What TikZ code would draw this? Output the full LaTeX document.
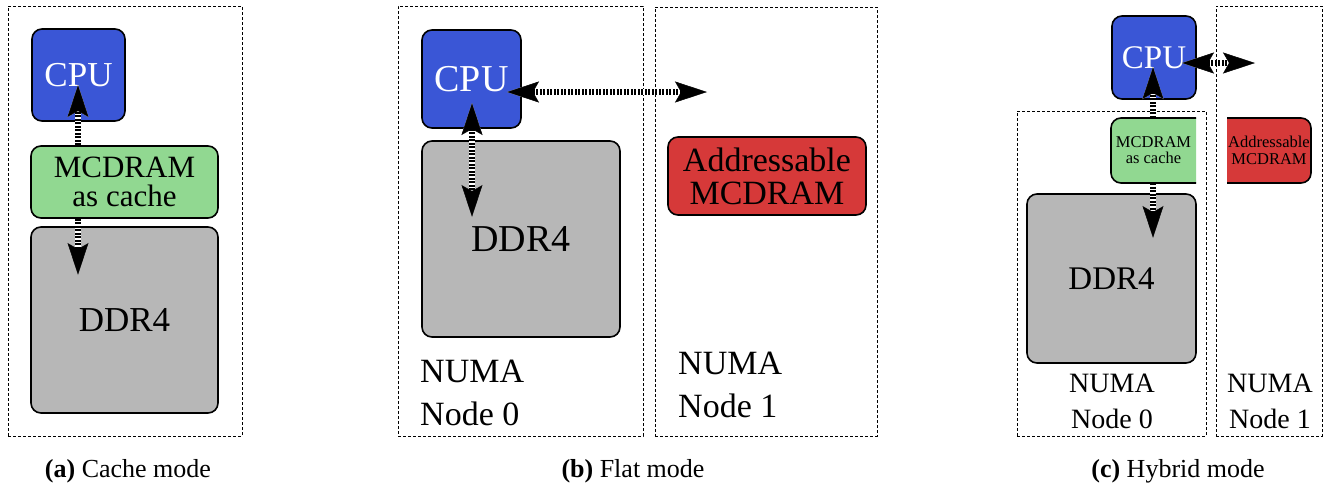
\documentclass[tikz,border=0pt]{standalone}
\usepackage{fontspec}
\setmainfont{Liberation Serif}
\usetikzlibrary{arrows.meta,fit}
\definecolor{cpublue}{RGB}{58,86,214}
\definecolor{mcgreen}{RGB}{145,216,145}
\definecolor{addred}{RGB}{214,57,57}
\definecolor{ddrgray}{RGB}{183,183,183}
\newcommand{\myfs}[2]{\fontsize{#1}{#2}\selectfont}
\tikzset{
  frame/.style={draw, line width=0.8pt, dash pattern=on 3pt off 2pt, inner sep=0pt},
  box/.style={draw, line width=1.6pt, rounded corners=10pt, inner sep=0pt, align=center},
  shapeline/.style={draw, line width=1.6pt, rounded corners=10pt},
  plain/.style={inner sep=0pt, align=center},
  tipstyle/.tip={Stealth[length=32pt,width=21pt,inset=6pt,line width=0.5pt]},
  arr/.style={line width=5.5pt, dash pattern=on 2pt off 1.5pt,
    preaction={draw=white, solid, line width=5.5pt}, -tipstyle},
  darr/.style={line width=5.5pt, dash pattern=on 2pt off 1.5pt,
    preaction={draw=white, solid, line width=5.5pt}, tipstyle-tipstyle},
}
\begin{document}
\begin{tikzpicture}[x=1pt,y=-1pt]
\useasboundingbox (0,0) rectangle (1325,483);
% ---------- (a) Cache mode
\node[frame, fit={(8,6) (242,436)}] (fa) {};
\node[box, fill=cpublue, text=white, font=\myfs{35}{40}, minimum width=93pt, minimum height=92pt] (acpu) at (78.5,75) {CPU};
\node[box, fill=mcgreen, font=\myfs{31}{29}, minimum width=187pt, minimum height=72pt] (amcd) at (124.5,182) {MCDRAM\\as cache};
\node[box, fill=ddrgray, font=\myfs{35}{40}, minimum width=187pt, minimum height=186pt] (addr) at (124.5,320) {DDR4};
\node[plain, font=\myfs{26}{30}, anchor=base] (capa) at (128,477) {\textbf{(a)} Cache mode};
\coordinate (aup) at (78,85);
\coordinate (adn) at (78,275);
\draw[arr] (amcd.north -| aup) -- (aup);
\draw[arr] (amcd.south -| adn) -- (adn);
% ---------- (b) Flat mode
\node[frame, fit={(398,6) (643,436)}] (fb0) {};
\node[frame, fit={(655,7) (877,436)}] (fb1) {};
\node[box, fill=cpublue, text=white, font=\myfs{38}{40}, minimum width=99pt, minimum height=98pt] (bcpu) at (471.5,79) {CPU};
\node[box, fill=ddrgray, font=\myfs{38}{40}, minimum width=198pt, minimum height=196pt] (bddr) at (521,239) {DDR4};
\node[box, fill=addred, font=\myfs{34}{33}, minimum width=198pt, minimum height=78pt] (bmcd) at (767,176) {Addressable\\MCDRAM};
\node[plain, align=left, anchor=west, font=\myfs{34}{43}] (bn0) at (420,393) {NUMA\\Node 0};
\node[plain, align=left, anchor=west, font=\myfs{34}{43}] (bn1) at (678,385) {NUMA\\Node 1};
\node[plain, font=\myfs{26}{30}, anchor=base] (capb) at (633,477) {\textbf{(b)} Flat mode};
\coordinate (bvt) at (472,103);
\coordinate (bvb) at (472,217);
\coordinate (bhl) at (507,92);
\coordinate (bhr) at (707,92);
\draw[darr] (bvt) -- (bvb);
\draw[darr] (bhl) -- (bhr);
% ---------- (c) Hybrid mode
\node[frame, fit={(1017,111) (1206,436)}] (fc0) {};
\node[frame, fit={(1216,6) (1322,436)}] (fc1) {};
\node[box, fill=cpublue, text=white, font=\myfs{33}{40}, minimum width=84pt, minimum height=83pt] (ccpu) at (1154,57.5) {CPU};
\path[shapeline, fill=mcgreen] (1196,118) -- (1111,118) -- (1111,183) -- (1196,183);
\path[shapeline, fill=addred] (1227,118) -- (1311,118) -- (1311,183) -- (1227,183);
\node[plain, font=\myfs{16.5}{16}, minimum width=85pt, minimum height=65pt] (cmcd) at (1153.5,150.5) {MCDRAM\\as cache};
\node[plain, font=\myfs{16.5}{17}, minimum width=84pt, minimum height=65pt] (cadd) at (1269,150.5) {Addressable\\MCDRAM};
\node[box, fill=ddrgray, font=\myfs{33}{40}, minimum width=169pt, minimum height=169pt] (cddr) at (1111.5,278.5) {DDR4};
\node[plain, font=\myfs{28}{36}] (cn0) at (1112,401) {NUMA\\Node 0};
\node[plain, font=\myfs{28}{36}] (cn1) at (1270,401) {NUMA\\Node 1};
\node[plain, font=\myfs{26}{30}, anchor=base] (capc) at (1178,477) {\textbf{(c)} Hybrid mode};
\coordinate (cup) at (1153,67);
\coordinate (cdn) at (1153,238);
\coordinate (chl) at (1182,63);
\coordinate (chr) at (1255,63);
\draw[arr] (cmcd.north -| cup) -- (cup);
\draw[arr] (cmcd.south -| cdn) -- (cdn);
\draw[darr] (chl) -- (chr);
\end{tikzpicture}
\end{document}
